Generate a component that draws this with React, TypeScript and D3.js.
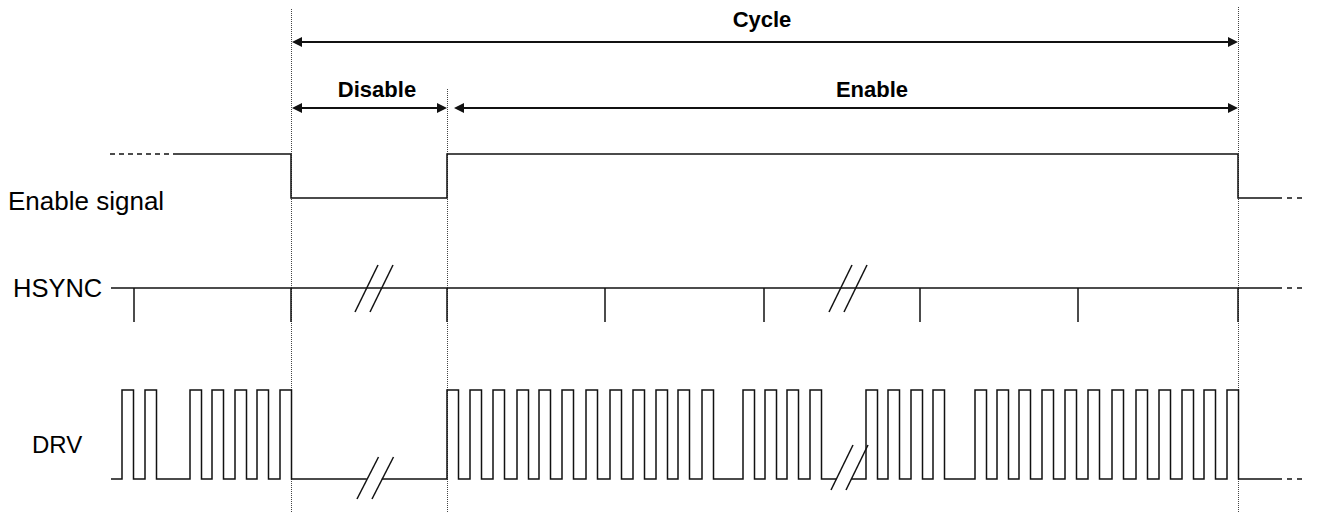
import React from "react";
import * as d3 from "d3";

// ---- data (time units along the horizontal axis) ----
const T_START = 111;
const T_DISABLE = 291;
const T_ENABLE = 447;
const T_CYCLE_END = 1238;
const T_SOLID_END = 1277;
const T_DASH_END = 1307;

const ENABLE_PRE_DASH = [110, 178];

const HSYNC_TICKS = [134, 291, 447, 605, 764, 920, 1078, 1238];

const DRV_PRE_RISES = [122, 145, 190, 212, 235, 257, 280];
const DRV_EN_RISES_A = [447, 470, 493, 517, 539, 562, 586, 610, 633, 656, 678, 702, 743, 765, 787, 810];
const DRV_EN_RISES_B = [866, 888, 911, 933, 975, 997, 1019, 1042, 1065, 1088, 1112, 1136, 1159, 1182, 1204, 1227];
const DRV_PULSE_WIDTH = 11.5;

const BREAK_DISABLE = [357, 372]; // slash bottom-left starts
const BREAK_ENABLE = [831, 846];

const LABELS = ["Enable signal", "HSYNC", "DRV"];
const SPANS = [
  { name: "Cycle", from: T_DISABLE, to: T_CYCLE_END, row: 0, labelAt: 762 },
  { name: "Disable", from: T_DISABLE, to: T_ENABLE, row: 1, labelAt: 377 },
  { name: "Enable", from: T_ENABLE + 6, to: T_CYCLE_END, row: 1, labelAt: 872 },
];

const W = 1323;
const H = 512;

export default function App() {
  const x = d3.scaleLinear().domain([0, W]).range([0, W]);
  const enY = { hi: 154, lo: 198 };
  const hsY = { line: 288, tick: 322 };
  const drvY = { hi: 390, lo: 479 };
  const arrowY = [42, 108];
  const labelY = [27, 97];
  const line = d3.line<[number, number]>().x((d) => d[0]).y((d) => d[1]);
  const stroke = "#111";

  // Enable signal
  const enSolid: [number, number][] = [
    [x(ENABLE_PRE_DASH[1]), enY.hi],
    [x(T_DISABLE), enY.hi],
    [x(T_DISABLE), enY.lo],
    [x(T_ENABLE), enY.lo],
    [x(T_ENABLE), enY.hi],
    [x(T_CYCLE_END), enY.hi],
    [x(T_CYCLE_END), enY.lo],
    [x(T_SOLID_END), enY.lo],
  ];

  // DRV
  const pulses = (rises: number[]) => {
    const pts: [number, number][] = [];
    rises.forEach((r) => {
      pts.push([x(r), drvY.lo], [x(r), drvY.hi], [x(r + DRV_PULSE_WIDTH), drvY.hi], [x(r + DRV_PULSE_WIDTH), drvY.lo]);
    });
    return pts;
  };
  const slashDx = 21.5;
  const slashDy = 44;
  const slashCross = (x0: number, yb: number, yLine: number) => x0 + ((yb - yLine) / slashDy) * slashDx;

  const drvBottomDis = drvY.lo + 20;
  const drvBottomEn = drvY.lo + 11;
  const drv1: [number, number][] = [
    [x(T_START), drvY.lo],
    ...pulses(DRV_PRE_RISES),
    [slashCross(x(BREAK_DISABLE[0]), drvBottomDis, drvY.lo), drvY.lo],
  ];
  const drv2: [number, number][] = [
    [slashCross(x(BREAK_DISABLE[1]), drvBottomDis, drvY.lo), drvY.lo],
    ...pulses(DRV_EN_RISES_A),
    [slashCross(x(BREAK_ENABLE[0]), drvBottomEn, drvY.lo), drvY.lo],
  ];
  const drv3: [number, number][] = [
    [slashCross(x(BREAK_ENABLE[1]), drvBottomEn, drvY.lo), drvY.lo],
    ...pulses(DRV_EN_RISES_B),
    [x(T_SOLID_END), drvY.lo],
  ];

  const hsBottom = hsY.line + 24;

  const arrowHead = (tipX: number, y: number, dir: number) => {
    const len = 10;
    const hw = 5;
    return `M${tipX},${y}L${tipX - dir * len},${y - hw}L${tipX - dir * len},${y + hw}Z`;
  };

  const dotted = [
    { t: T_DISABLE, y0: 9 },
    { t: T_ENABLE, y0: 89 },
    { t: T_CYCLE_END, y0: 7 },
  ];

  const font = "'Liberation Sans', Arial, Helvetica, sans-serif";

  return (
    <svg width={W} height={H} style={{ position: "absolute", left: 0, top: 0, background: "#fff" }}>
      {/* dotted guide lines */}
      {dotted.map((d, i) => (
        <line key={i} x1={x(d.t) + 0.5} x2={x(d.t) + 0.5} y1={d.y0} y2={H} stroke="#444" strokeWidth={1} strokeDasharray="1,1" />
      ))}

      {/* span arrows */}
      {SPANS.map((s, i) => {
        const y = arrowY[s.row];
        const a = x(s.from) + 1;
        const b = x(s.to);
        return (
          <g key={i}>
            <line x1={a + 8} x2={b - 8} y1={y} y2={y} stroke={stroke} strokeWidth={2} />
            <path d={arrowHead(a, y, -1)} fill={stroke} />
            <path d={arrowHead(b, y, 1)} fill={stroke} />
            <text
              x={x(s.labelAt)}
              y={labelY[s.row]}
              textAnchor="middle"
              fontFamily={font}
              fontWeight="bold"
              fontSize={22}
              fill="#000"
            >
              {s.name}
            </text>
          </g>
        );
      })}

      {/* labels */}
      <text x={8} y={210} fontFamily={font} fontSize={26} fill="#000">{LABELS[0]}</text>
      <text x={13} y={297} fontFamily={font} fontSize={25.5} fill="#000">{LABELS[1]}</text>
      <text x={32} y={453} fontFamily={font} fontSize={24} fill="#000">{LABELS[2]}</text>

      {/* Enable signal */}
      <line x1={x(ENABLE_PRE_DASH[0])} x2={x(ENABLE_PRE_DASH[1])} y1={enY.hi} y2={enY.hi} stroke={stroke} strokeWidth={1.5} strokeDasharray="5,4" />
      <path d={line(enSolid) || ""} fill="none" stroke={stroke} strokeWidth={1.5} />
      <line x1={x(T_SOLID_END)} x2={x(T_DASH_END)} y1={enY.lo} y2={enY.lo} stroke={stroke} strokeWidth={1.5} strokeDasharray="5,5" />

      {/* HSYNC */}
      <line x1={x(T_START)} x2={x(T_SOLID_END)} y1={hsY.line} y2={hsY.line} stroke={stroke} strokeWidth={1.5} />
      <line x1={x(T_SOLID_END)} x2={x(T_DASH_END)} y1={hsY.line} y2={hsY.line} stroke={stroke} strokeWidth={1.5} strokeDasharray="5,5" />
      {HSYNC_TICKS.map((t, i) => (
        <line key={i} x1={x(t)} x2={x(t)} y1={hsY.line} y2={hsY.tick} stroke={stroke} strokeWidth={1.5} />
      ))}
      {[BREAK_DISABLE, BREAK_ENABLE].map((br, j) =>
        br.map((b, i) => (
          <line key={`h${j}${i}`} x1={x(b) - 2} y1={hsBottom} x2={x(b) - 2 + 23} y2={hsBottom - 47} stroke={stroke} strokeWidth={1.5} />
        ))
      )}

      {/* DRV */}
      {[drv1, drv2, drv3].map((seg, i) => (
        <path key={i} d={line(seg) || ""} fill="none" stroke={stroke} strokeWidth={1.5} />
      ))}
      <line x1={x(T_SOLID_END)} x2={x(T_DASH_END)} y1={drvY.lo} y2={drvY.lo} stroke={stroke} strokeWidth={1.5} strokeDasharray="5,5" />
      {BREAK_DISABLE.map((b, i) => (
        <line key={`d${i}`} x1={x(b)} y1={drvBottomDis} x2={x(b) + slashDx} y2={drvBottomDis - 42} stroke={stroke} strokeWidth={1.5} />
      ))}
      {BREAK_ENABLE.map((b, i) => (
        <line key={`e${i}`} x1={x(b)} y1={drvBottomEn} x2={x(b) + slashDx + 0.5} y2={drvBottomEn - 45} stroke={stroke} strokeWidth={1.5} />
      ))}
    </svg>
  );
}
